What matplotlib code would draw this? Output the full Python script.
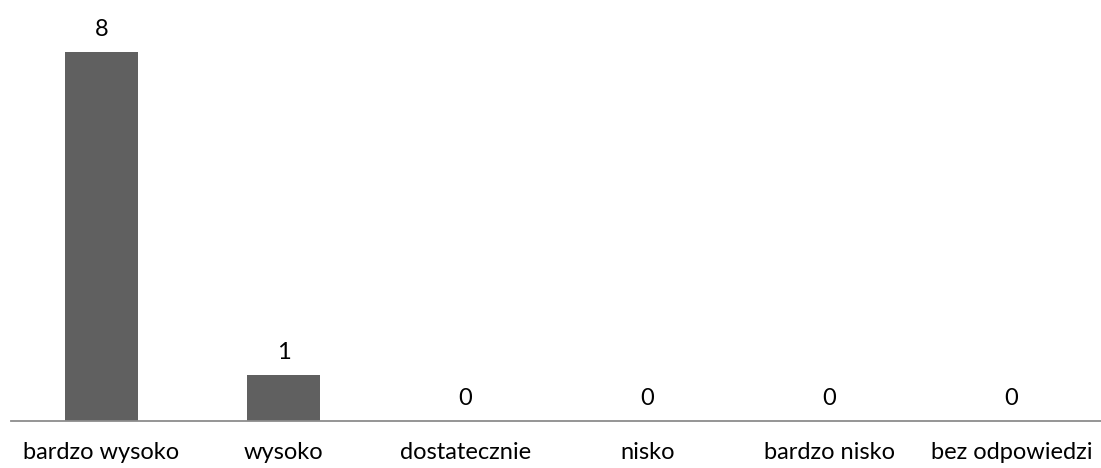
import matplotlib
matplotlib.use("Agg")
import matplotlib.pyplot as plt

categories = ["bardzo wysoko", "wysoko", "dostatecznie", "nisko", "bardzo nisko", "bez odpowiedzi"]
values = [8, 1, 0, 0, 0, 0]

W, H = 1101, 468
fig = plt.figure(figsize=(W / 100, H / 100), dpi=100)
left, right = 10.5, 1102.5
bottom_px = 421
top_px = 6
ax = fig.add_axes([left / W, (H - bottom_px) / H, (right - left) / W, (bottom_px - top_px) / H])

x = list(range(len(categories)))
ax.bar(x, values, width=0.4, color="#606060", zorder=2)
ax.set_xlim(-0.5, len(categories) - 0.5)
ax.set_ylim(0, 9)

for s in ["top", "right", "left"]:
    ax.spines[s].set_visible(False)
ax.spines["bottom"].set_color("#8c8c8c")
ax.spines["bottom"].set_linewidth(1.3)
ax.set_yticks([])
ax.set_xticks(x)
ax.set_xticklabels(categories, fontsize=17, family="Lato", color="#000000")
ax.tick_params(axis="x", length=0, pad=15)

for xi, v in zip(x, values):
    ax.annotate(str(v), (xi, v), xytext=(0, 16), textcoords="offset points",
                ha="center", va="center", fontsize=17, family="Lato", color="#000000")

fig.savefig("out.png", dpi=100)
